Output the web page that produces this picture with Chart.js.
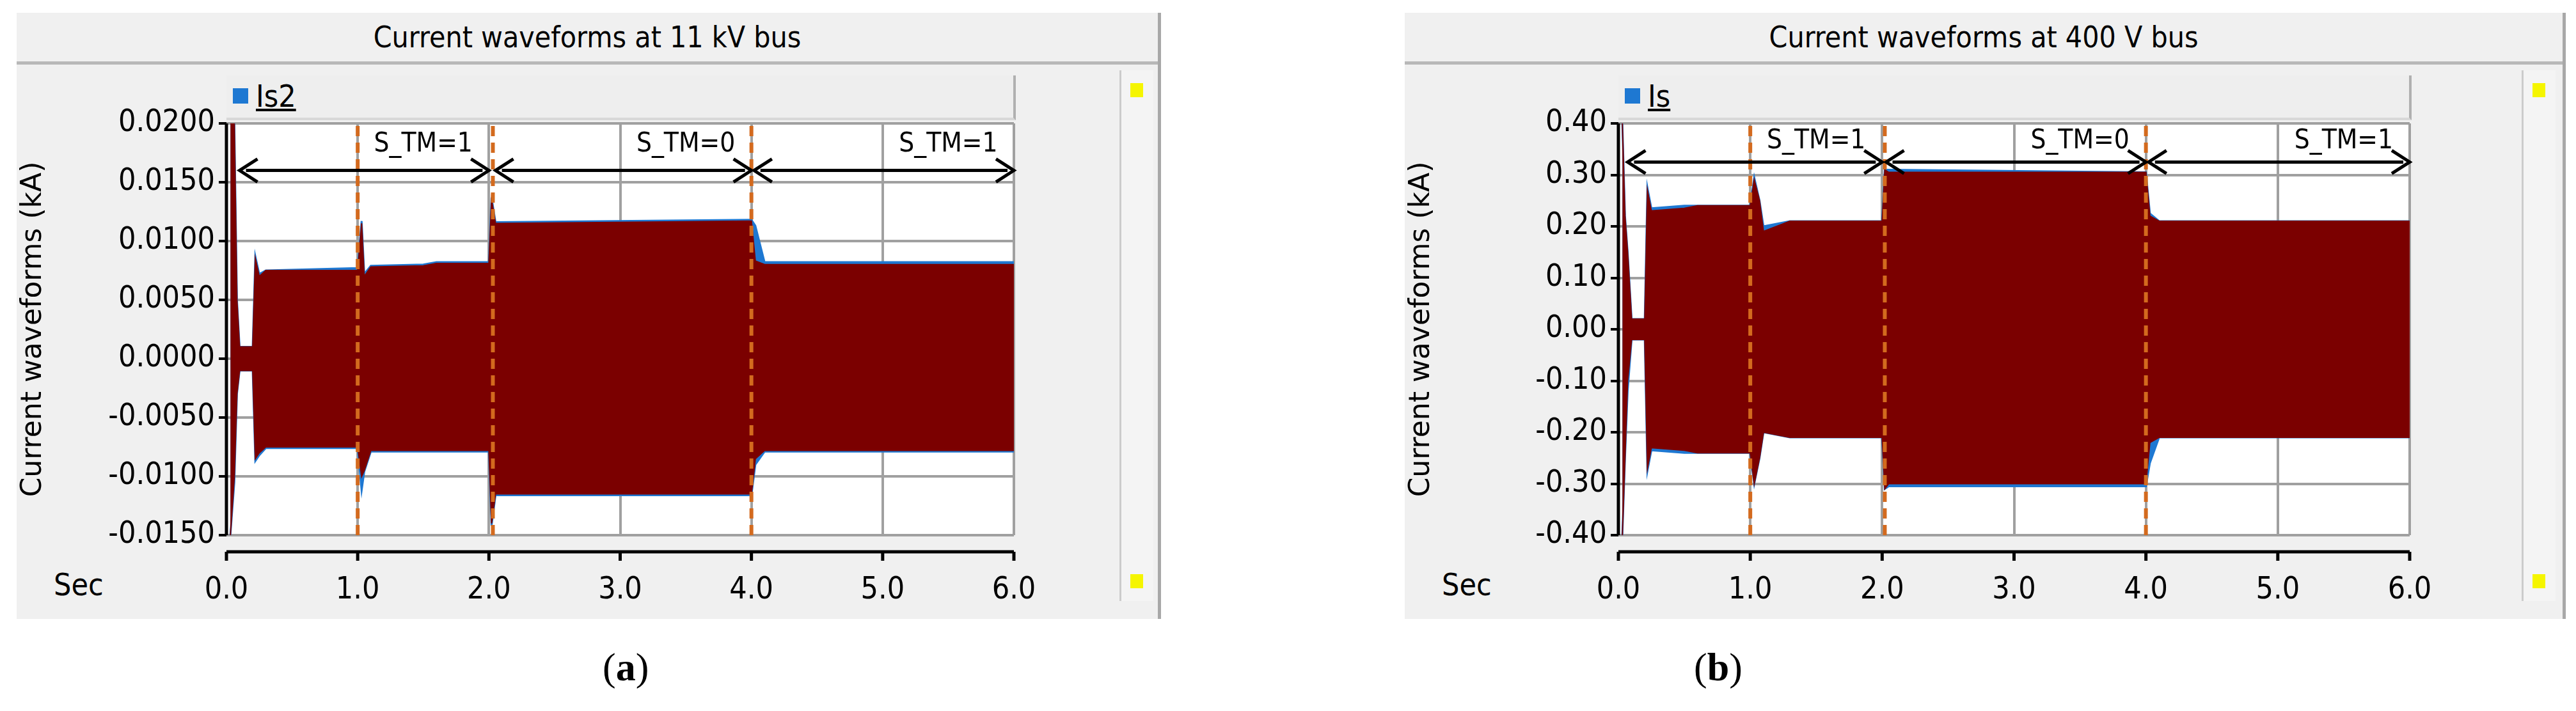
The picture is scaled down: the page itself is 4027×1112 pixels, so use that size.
<!DOCTYPE html>
<html><head><meta charset="utf-8">
<script src="https://cdn.jsdelivr.net/npm/chart.js@4"></script>
<style>
body{margin:0;width:4027px;height:1112px;background:#fff;position:relative;overflow:hidden;font-family:"DejaVu Sans Condensed","DejaVu Sans",sans-serif}
.panel{position:absolute;background:#f0f0f0;border-right:5px solid #a8a8a8}
.title{position:absolute;left:0;right:0;top:0;height:76px;border-bottom:5px solid #b8b8b8;text-align:center;font-size:46px;line-height:76px;color:#000}
.legend{position:absolute;height:66px;background:#eeeeee;border-right:4px solid #b0b0b0;border-bottom:4px solid #d8d8d8;font-family:"DejaVu Sans Condensed";font-size:48px}
.legend i{position:absolute;left:10px;top:20px;width:24px;height:24px;background:#1e78d2}
.legend span{position:absolute;left:46px;top:4px;text-decoration:underline}
.sec{position:absolute;font-family:"DejaVu Sans Condensed";font-size:48px}
.scroll{position:absolute;width:50px;background:#f4f4f4;border-left:3px solid #ccc}
.scroll b{position:absolute;left:14px;width:20px;height:22px;background:#f5f500}
.cap{position:absolute;font-family:"Liberation Serif",serif;font-size:62px}
.box{position:absolute}
</style></head><body>
<div class="panel" style="left:26px;top:20px;width:1784px;height:948px">
 <div class="title">Current waveforms at 11 kV bus</div>
 <div class="legend" style="left:328px;top:98px;width:1230px"><i></i><span>Is2</span></div>
 <div class="sec" style="left:58px;top:866px">Sec</div>
 <div class="scroll" style="left:1724px;top:90px;height:830px"><b style="top:20px"></b><b style="top:788px"></b></div>
</div>
<div class="panel" style="left:2196px;top:20px;width:1810px;height:948px">
 <div class="title">Current waveforms at 400 V bus</div>
 <div class="legend" style="left:334px;top:98px;width:1236px"><i></i><span>Is</span></div>
 <div class="sec" style="left:58px;top:866px">Sec</div>
 <div class="scroll" style="left:1746px;top:90px;height:830px"><b style="top:20px"></b><b style="top:788px"></b></div>
</div>
<div class="cap" style="left:942px;top:1008px">(<b>a</b>)</div>
<div class="cap" style="left:2648px;top:1008px">(<b>b</b>)</div>
<div class="box" style="left:26px;top:98px;width:1720px;height:870px"><canvas id="ca"></canvas></div>
<div class="box" style="left:2196px;top:98px;width:1746px;height:870px"><canvas id="cb"></canvas></div>
<script>
// ---- data (a): 11 kV bus, envelope of Is2 (kA)
const tA      = [0.03,0.06,0.08,0.10,0.20,0.22,0.25,0.30,1.00,1.03,1.05,1.10,1.50,1.60,2.00,2.02,2.05,4.00,4.03,4.10,6.00];
const upA     = [0.0200,0.0200,0.0050,0.0010,0.0010,0.0085,0.0070,0.0075,0.0075,0.0115,0.0070,0.0078,0.0079,0.0081,0.0081,0.0135,0.0115,0.0117,0.0083,0.0080,0.0080];
const loA     = [-0.0150,-0.0100,-0.0030,-0.0010,-0.0010,-0.0085,-0.0080,-0.0075,-0.0075,-0.0100,-0.0095,-0.0078,-0.0078,-0.0078,-0.0078,-0.0140,-0.0115,-0.0115,-0.0085,-0.0078,-0.0078];
const upBlueA = [0.0200,0.0200,0.0050,0.0010,0.0010,0.0087,0.0072,0.0075,0.0077,0.0117,0.0072,0.0079,0.0080,0.0082,0.0082,0.0137,0.0116,0.0118,0.0113,0.0082,0.0082];
const loBlueA = [-0.0150,-0.0105,-0.0030,-0.0010,-0.0010,-0.0087,-0.0082,-0.0076,-0.0076,-0.0112,-0.0096,-0.0079,-0.0079,-0.0079,-0.0079,-0.0142,-0.0116,-0.0116,-0.0090,-0.0079,-0.0079];
const yTicksA = [-0.0150,-0.0100,-0.0050,0.0000,0.0050,0.0100,0.0150,0.0200];
// ---- data (b): 400 V bus, envelope of Is (kA)
const tB      = [0.03,0.05,0.07,0.10,0.20,0.22,0.25,0.50,0.60,1.00,1.03,1.07,1.10,1.30,2.00,2.02,2.05,4.00,4.03,4.10,6.00];
const upB     = [0.40,0.22,0.15,0.02,0.02,0.27,0.23,0.235,0.24,0.24,0.29,0.25,0.19,0.21,0.21,0.31,0.305,0.305,0.22,0.21,0.21];
const loB     = [-0.40,-0.25,-0.10,-0.02,-0.02,-0.27,-0.23,-0.235,-0.24,-0.24,-0.30,-0.25,-0.20,-0.21,-0.21,-0.31,-0.30,-0.30,-0.22,-0.21,-0.21];
const upBlueB = [0.40,0.22,0.15,0.02,0.02,0.275,0.235,0.24,0.24,0.24,0.295,0.25,0.20,0.21,0.21,0.31,0.31,0.305,0.225,0.21,0.21];
const loBlueB = [-0.40,-0.25,-0.12,-0.02,-0.02,-0.275,-0.235,-0.24,-0.24,-0.24,-0.30,-0.25,-0.20,-0.21,-0.21,-0.31,-0.305,-0.305,-0.26,-0.21,-0.21];
const yTicksB = [-0.40,-0.30,-0.20,-0.10,0.00,0.10,0.20,0.30,0.40];
const xTicks  = [0,1,2,3,4,5,6];
const switchTimesA = [1.0,2.03,4.0];
const switchTimesB = [1.0,2.02,4.0];
const stateLabels = ["S_TM=1","S_TM=0","S_TM=1"];
const spansA = [[0.1,2.0],[2.05,4.0],[4.02,6.0]];
const spansB = [[0.07,2.0],[2.03,4.0],[4.02,6.0]];
const labelXA = [1.5,3.5,5.5], labelXB=[1.5,3.5,5.5];

const FONT='"DejaVu Sans Condensed","DejaVu Sans"';
const pts=(t,v)=>t.map((x,i)=>({x,y:v[i]}));
function build(id,t,up,lo,ub,lb,yt,dec,sw,spans,lx,arrowY,lblY){
 const ymin=yt[0],ymax=yt[yt.length-1];
 const ds=[
  {data:pts(t,up),fill:'+1',backgroundColor:'#7b0000',borderColor:'#7b0000',borderWidth:2,order:2},
  {data:pts(t,lo),fill:false,borderColor:'#7b0000',borderWidth:2,order:2},
  {data:pts(t,ub),fill:'+1',backgroundColor:'#1e78d2',borderColor:'#1e78d2',borderWidth:3,order:3},
  {data:pts(t,lb),fill:false,borderColor:'#1e78d2',borderWidth:3,order:3}];
 sw.forEach(s=>ds.push({data:[{x:s,y:ymin},{x:s,y:ymax}],borderColor:'#d36a1e',borderWidth:6,borderDash:[16,10],fill:false,order:1,clip:false}));
 const deco={id:'deco',
  beforeDraw(c){const a=c.chartArea,x=c.ctx;x.save();x.fillStyle='#fff';x.fillRect(a.left,a.top,a.right-a.left,a.bottom-a.top);x.restore();},
  afterDraw(c){const a=c.chartArea,x=c.ctx,sx=c.scales.x,sy=c.scales.y;x.save();
   const yb=a.bottom+26;x.strokeStyle='#000';x.lineWidth=5;x.beginPath();x.moveTo(sx.getPixelForValue(0),yb);x.lineTo(sx.getPixelForValue(6),yb);x.stroke();
   xTicks.forEach(v=>{const px=sx.getPixelForValue(v);x.beginPath();x.moveTo(px,yb);x.lineTo(px,yb+14);x.stroke();});
   x.beginPath();x.moveTo(a.left,a.top);x.lineTo(a.left,a.bottom);x.stroke();
   const ay=sy.getPixelForValue(arrowY);x.lineWidth=5;x.fillStyle='#000';
   spans.forEach(([p,q])=>{const l=sx.getPixelForValue(p),r=sx.getPixelForValue(q);
    x.beginPath();x.moveTo(l+10,ay);x.lineTo(r-10,ay);x.stroke();
    [[l,1],[r,-1]].forEach(([e,d])=>{x.beginPath();x.moveTo(e+d*28,ay-18);x.lineTo(e,ay);x.lineTo(e+d*28,ay+18);x.stroke();});});
   x.font='42px '+FONT;x.textAlign='center';x.textBaseline='middle';
   lx.forEach((v,i)=>x.fillText(stateLabels[i],sx.getPixelForValue(v),sy.getPixelForValue(lblY)));
   x.restore();}};
 return new Chart(document.getElementById(id),{type:'line',data:{datasets:ds},plugins:[deco],
  options:{responsive:true,maintainAspectRatio:false,animation:false,
   layout:{padding:{top:95,right:id==='ca'?161:175,left:0,bottom:0}},
   plugins:{legend:{display:false},tooltip:{enabled:false}},
   elements:{point:{radius:0},line:{tension:0}},
   scales:{
    x:{type:'linear',min:0,max:6,afterFit:s=>{s.height=131;},
     afterBuildTicks:s=>{s.ticks=xTicks.map(v=>({value:v}));},
     grid:{color:'#a0a0a0',lineWidth:4,drawTicks:false},border:{display:false},
     ticks:{padding:58,color:'#000',font:{family:FONT,size:48},callback:v=>v.toFixed(1)}},
    y:{min:ymin,max:ymax,afterFit:s=>{s.width=id==='ca'?328:334;},
     afterBuildTicks:s=>{s.ticks=yt.map(v=>({value:v}));},
     grid:{color:'#a0a0a0',lineWidth:4,tickColor:'#000',tickLength:12},border:{display:false},
     title:{display:true,text:'Current waveforms (kA)',color:'#000',font:{family:'DejaVu Sans',size:44},padding:{top:0,bottom:4}},
     ticks:{padding:6,color:'#000',font:{family:FONT,size:48},callback:v=>v.toFixed(dec)}}}}});
}
build('ca',tA,upA,loA,upBlueA,loBlueA,yTicksA,4,switchTimesA,spansA,labelXA,0.0160,0.0182);
build('cb',tB,upB,loB,upBlueB,loBlueB,yTicksB,2,switchTimesB,spansB,labelXB,0.325,0.365);
</script></body></html>
